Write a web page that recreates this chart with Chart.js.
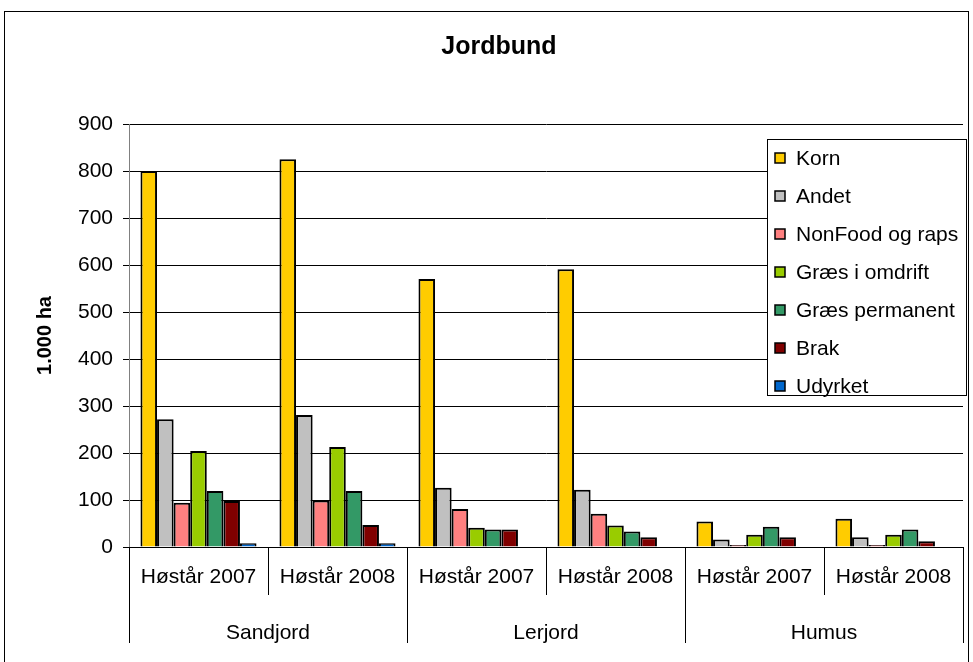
<!DOCTYPE html>
<html>
<head>
<meta charset="utf-8">
<script src="https://cdn.jsdelivr.net/npm/chart.js@4/dist/chart.umd.min.js"></script>
<style>
  html, body { margin: 0; padding: 0; background: #fff; }
  #wrap { position: relative; width: 973px; height: 662px; }
</style>
</head>
<body>
<div id="wrap"><canvas id="myChart" width="973" height="662"></canvas></div>
<script>
// Data (1.000 ha)
const years = ['Høstår 2007', 'Høstår 2008', 'Høstår 2007', 'Høstår 2008', 'Høstår 2007', 'Høstår 2008'];
const soils = ['Sandjord', 'Lerjord', 'Humus'];

const korn      = [800, 825, 570, 591, 54, 60];
const andet     = [272, 281, 126, 122, 16, 21];
const nonFood   = [94, 99, 81, 71, 4, 4];
const graesOmd  = [204, 213, 41, 46, 26, 26];
const graesPerm = [119, 119, 37, 33, 43, 37];
const brak      = [98, 47, 37, 21, 21, 12];
const udyrket   = [8, 8, 0, 0, 0, 0];

const seriesNames  = ['Korn', 'Andet', 'NonFood og raps', 'Græs i omdrift', 'Græs permanent', 'Brak', 'Udyrket'];
const seriesValues = [korn, andet, nonFood, graesOmd, graesPerm, brak, udyrket];
const seriesColors = ['#FFCC00', '#C0C0C0', '#FF8080', '#99CC00', '#339966', '#800000', '#0066CC'];

const yTicks = [0, 100, 200, 300, 400, 500, 600, 700, 800, 900];

const FONT = "'Liberation Sans', Arial, sans-serif";

// frame, category separators and the legend box
const decorations = {
    id: 'decorations',
    beforeDraw(chart) {
        const c = chart.ctx;
        c.save();
        c.fillStyle = '#fff';
        c.fillRect(0, 0, chart.width, chart.height);
        c.strokeStyle = '#000';
        c.lineWidth = 1;
        c.strokeRect(4.5, 11.5, 964, 700);
        c.restore();
    },
    afterDraw(chart) {
        const c = chart.ctx;
        const xs = chart.scales.x;
        const x2 = chart.scales.x2;
        c.save();
        c.strokeStyle = '#000';
        c.lineWidth = 1;
        const w = (xs.right - xs.left) / years.length;
        for (let i = 0; i <= years.length; i++) {
            const px = Math.round(xs.left + i * w) + 0.5;
            c.beginPath();
            c.moveTo(px, xs.top);
            c.lineTo(px, xs.bottom);
            c.stroke();
        }
        const w2 = (x2.right - x2.left) / soils.length;
        for (let j = 0; j <= soils.length; j++) {
            const px = Math.round(x2.left + j * w2) + 0.5;
            c.beginPath();
            c.moveTo(px, xs.top);
            c.lineTo(px, x2.bottom);
            c.stroke();
        }

        // legend
        const lx = 767, ly = 139, lw = 199, lh = 256;
        c.fillStyle = '#fff';
        c.fillRect(lx, ly, lw, lh);
        c.strokeRect(lx + 0.5, ly + 0.5, lw, lh);
        c.font = '21px ' + FONT;
        c.textBaseline = 'middle';
        chart.data.datasets.forEach((ds, i) => {
            const cy = 158 + i * 38;
            c.fillStyle = ds.backgroundColor;
            c.fillRect(775, cy - 5, 10, 10);
            c.strokeStyle = '#000';
            c.lineWidth = 1.5;
            c.strokeRect(775, cy - 5, 10, 10);
            c.fillStyle = '#000';
            c.fillText(ds.label, 796, cy + 1);
        });
        c.restore();
    }
};

const ctx = document.getElementById('myChart').getContext('2d');

let myChart = new Chart(ctx, {
    type: 'bar',
    data: {
        labels: years,
        datasets: seriesNames.map((name, i) => ({
            label: name,
            data: seriesValues[i],
            backgroundColor: seriesColors[i],
            borderColor: '#000',
            borderWidth: 2,
            categoryPercentage: 0.835,
            barPercentage: 1.0,
            xAxisID: 'x',
            yAxisID: 'y'
        }))
    },
    options: {
        responsive: false,
        animation: false,
        layout: { padding: { top: 0, left: 25, right: 0, bottom: 19 } },
        plugins: {
            legend: { display: false },
            tooltip: { enabled: false },
            title: {
                display: true,
                text: 'Jordbund',
                color: '#000',
                font: { family: FONT, size: 25, weight: 'bold' },
                padding: { top: 32, bottom: 62 }
            }
        },
        scales: {
            x: {
                type: 'category',
                position: 'bottom',
                grid: { display: true, drawOnChartArea: false, drawTicks: false },
                border: { display: true, color: '#000', width: 1 },
                ticks: { color: '#000', font: { family: FONT, size: 21 }, padding: 18, maxRotation: 0, autoSkip: false },
                afterFit(scale) { scale.height = 48; }
            },
            x2: {
                type: 'category',
                position: 'bottom',
                labels: soils,
                offset: true,
                grid: { display: false },
                border: { display: false },
                ticks: { color: '#000', font: { family: FONT, size: 21 }, padding: 18, maxRotation: 0 },
                afterFit(scale) { scale.height = 48; }
            },
            y: {
                position: 'left',
                min: 0,
                max: 900,
                afterBuildTicks(scale) { scale.ticks = yTicks.map(v => ({ value: v })); },
                grid: { color: '#000', lineWidth: 1, tickLength: 6, tickColor: '#000' },
                border: { display: true, color: '#808080', width: 1 },
                ticks: { color: '#000', font: { family: FONT, size: 21 }, padding: 10 },
                title: {
                    display: true,
                    text: '1.000 ha',
                    color: '#000',
                    font: { family: FONT, size: 20, weight: 'bold' },
                    padding: { top: 8, bottom: 0 }
                },
                afterFit(scale) { scale.width = 104; }
            },
            yR: {
                position: 'right',
                display: true,
                grid: { display: false },
                border: { display: false },
                ticks: { display: false },
                afterFit(scale) { scale.width = 10; }
            }
        }
    },
    plugins: [decorations]
});
</script>
</body>
</html>
